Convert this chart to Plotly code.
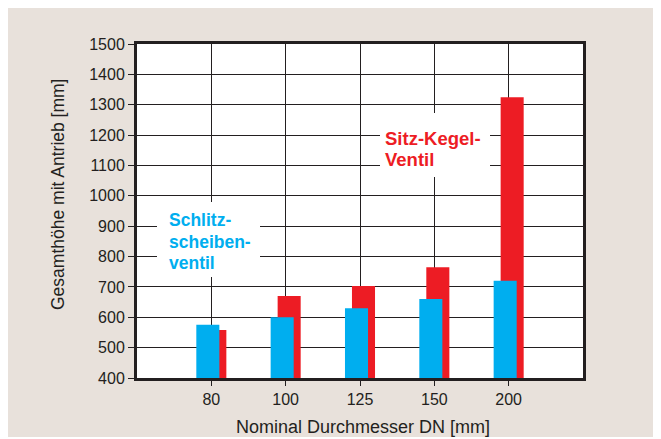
import plotly.graph_objects as go

categories = ["80", "100", "125", "150", "200"]
schlitz = [575, 600, 630, 660, 720]
sitz = [558, 670, 703, 765, 1325]
y_ticks = list(range(400, 1501, 100))

red_label_lines = ["Sitz-Kegel-", "Ventil"]
blue_label_lines = ["Schlitz-", "scheiben-", "ventil"]

BLUE = "#00aeef"
RED = "#ed1c24"
BEIGE = "#e8e1db"
DARK = "#231f20"
FONT = "Liberation Sans, Arial, sans-serif"

OFF = 8  # page body margin
W, H = 661 - OFF, 437 - OFF
L, R, T, B = 137 - OFF, 583 - OFF, 44 - OFF, 378 - OFF
pw, ph = R - L, B - T


def px(x):
    return (x - OFF - L) / pw


def py(y):
    return (B - (y - OFF)) / ph


fig = go.Figure()
fig.add_trace(go.Bar(x=categories, y=[v - 400 for v in sitz], base=400,
                     marker=dict(color=RED, line=dict(width=0)),
                     width=0.31, offset=-0.108, name="Sitz-Kegel-Ventil"))
fig.add_trace(go.Bar(x=categories, y=[v - 400 for v in schlitz], base=400,
                     marker=dict(color=BLUE, line=dict(width=0)),
                     width=0.31, offset=-0.202, name="Schlitzscheibenventil"))

shapes = [
    # white label backgrounds
    dict(type="rect", xref="paper", yref="paper", x0=px(380), x1=px(490), y0=py(177), y1=py(113),
         fillcolor="white", line=dict(width=0), layer="above"),
    dict(type="rect", xref="paper", yref="paper", x0=px(157), x1=px(260), y0=py(277), y1=py(202),
         fillcolor="white", line=dict(width=0), layer="above"),
]

annotations = []
for line, ypos in zip(red_label_lines, [138, 159]):
    annotations.append(dict(text="<b>%s</b>" % line, xref="paper", yref="paper",
                            x=px(383), y=py(ypos), xanchor="left", yanchor="middle",
                            showarrow=False, font=dict(family=FONT, size=18.5, color=RED)))
for line, ypos in zip(blue_label_lines, [220, 242, 263]):
    annotations.append(dict(text="<b>%s</b>" % line, xref="paper", yref="paper",
                            x=px(167), y=py(ypos), xanchor="left", yanchor="middle",
                            showarrow=False, font=dict(family=FONT, size=17.5, color=BLUE)))
annotations += [
    dict(text="Gesamthöhe mit Antrieb [mm]", xref="paper", yref="paper",
         x=px(58), y=py(195), xanchor="center", yanchor="middle", textangle=-90,
         showarrow=False, font=dict(family=FONT, size=17.5, color=DARK)),
    dict(text="Nominal Durchmesser DN [mm]", xref="paper", yref="paper",
         x=px(362.5), y=py(427), xanchor="center", yanchor="middle",
         showarrow=False, font=dict(family=FONT, size=18, color=DARK)),
]

fig.update_layout(
    width=W, height=H,
    margin=dict(l=L, r=W - R, t=T, b=H - B, pad=0),
    paper_bgcolor=BEIGE, plot_bgcolor="white",
    barmode="overlay", showlegend=False,
    font=dict(family=FONT, size=16, color=DARK),
    shapes=shapes, annotations=annotations,
    xaxis=dict(type="category", categoryorder="array", categoryarray=categories,
               range=[-1, 5], showgrid=True, gridcolor=DARK, gridwidth=1.3,
               showline=True, linecolor=DARK, linewidth=3, mirror=True,
               ticks="outside", ticklen=5, tickwidth=1.3, tickcolor=DARK,
               tickfont=dict(size=16, color=DARK), zeroline=False, fixedrange=True),
    yaxis=dict(range=[400, 1500], tickvals=y_ticks, showgrid=True, gridcolor=DARK,
               gridwidth=1.3, showline=True, linecolor=DARK, linewidth=3, mirror=True,
               ticks="outside", ticklen=6, tickwidth=1.3, tickcolor=DARK,
               tickfont=dict(size=16, color=DARK), zeroline=False, fixedrange=True),
)

fig.write_html("out.html")
